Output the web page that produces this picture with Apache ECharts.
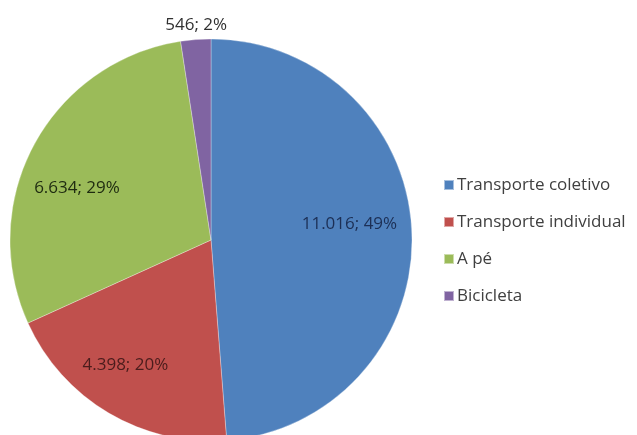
<!DOCTYPE html>
<html><head><meta charset="utf-8">
<script src="https://cdn.jsdelivr.net/npm/echarts@6/dist/echarts.min.js"></script>
<style>html,body{margin:0;padding:0;background:#fff}#c{width:637px;height:435px}</style>
</head><body><div id="c"></div>
<script>
var categories = ['Transporte coletivo', 'Transporte individual', 'A pé', 'Bicicleta'];
var values = [11016, 4398, 6634, 546];
var percentLabels = ['49%', '20%', '29%', '2%'];
var valueLabels = ['11.016', '4.398', '6.634', '546'];
var colors = ['#4F81BD', '#C0504D', '#9BBB59', '#8064A2'];
var labelShift = [[35, -12], [-33, 36], [-43, -3], [-7, -112]];

var chart = echarts.init(document.getElementById('c'), null, {renderer: 'canvas'});
chart.setOption({
  animation: false,
  backgroundColor: '#fff',
  color: colors,
  legend: {
    orient: 'vertical',
    left: 438,
    top: 169,
    itemWidth: 10,
    itemHeight: 10,
    itemGap: 15,
    icon: 'rect',
    textStyle: {fontFamily: 'Open Sans', fontSize: 17, lineHeight: 22, color: '#404040', padding: [0, 0, 0, -2]},
    data: categories
  },
  series: [{
    type: 'pie',
    center: [211, 240],
    radius: [0, 201],
    startAngle: 90,
    clockwise: true,
    avoidLabelOverlap: false,
    itemStyle: {borderColor: 'rgba(255,255,255,0.5)', borderWidth: 0.6},
    label: {
      position: 'inside',
      fontFamily: 'Open Sans',
      fontSize: 17,
      color: '#1f2a1f',
      formatter: function (p) { return valueLabels[p.dataIndex] + '; ' + percentLabels[p.dataIndex]; }
    },
    labelLine: {show: false},
    labelLayout: function (p) { return {dx: labelShift[p.dataIndex][0], dy: labelShift[p.dataIndex][1]}; },
    emphasis: {disabled: true},
    data: categories.map(function (c, i) {
      var d = {name: c, value: values[i]};
      if (i === 0) d.label = {color: '#1c2f55'};
      if (i === 1) d.label = {color: '#4a1c1c'};
      if (i === 2) d.label = {color: '#1e2a10'};
      if (i === 3) d.label = {color: '#303030'};
      return d;
    })
  }]
});
</script></body></html>
